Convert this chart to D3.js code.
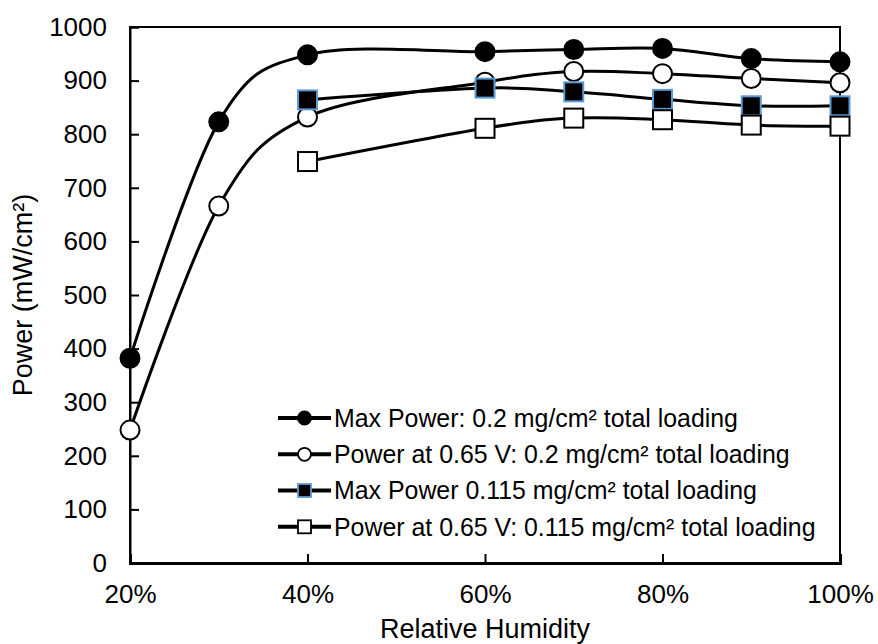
<!DOCTYPE html>
<html>
<head>
<meta charset="utf-8">
<script src="https://cdn.jsdelivr.net/npm/d3@7"></script>
<style>
  html, body { margin: 0; padding: 0; background: #fff; }
  svg { display: block; font-family: "Liberation Sans", Arial, sans-serif; }
</style>
</head>
<body>
<svg id="chart" width="878" height="644"></svg>
<script>
// ---- data ----
const humidity = [0.2, 0.3, 0.4, 0.6, 0.7, 0.8, 0.9, 1.0];
const maxPower02 = [382, 823, 948, 954, 958, 960, 941, 935];
const power065_02 = [248, 666, 832, 897, 917, 913, 904, 896];
const humidity115 = [0.4, 0.6, 0.7, 0.8, 0.9, 1.0];
const maxPower0115 = [864, 886, 879, 865, 853, 853];
const power065_0115 = [749, 811, 830, 827, 817, 815];
const seriesNames = [
  "Max Power: 0.2 mg/cm\u00B2 total loading",
  "Power at 0.65 V: 0.2 mg/cm\u00B2 total loading",
  "Max Power 0.115 mg/cm\u00B2 total loading",
  "Power at 0.65 V: 0.115 mg/cm\u00B2 total loading"
];
const xTicks = [0.2, 0.4, 0.6, 0.8, 1.0];
const yTicks = [0, 100, 200, 300, 400, 500, 600, 700, 800, 900, 1000];
const xTitle = "Relative Humidity";
const yTitle = "Power (mW/cm\u00B2)";

// ---- layout ----
const mLeft = 130, mRight = 840, mTop = 27, mBottom = 563;
const svg = d3.select("#chart");
const x = d3.scaleLinear().domain([0.2, 1.0]).range([mLeft, mRight]);
const y = d3.scaleLinear().domain([0, 1000]).range([mBottom, mTop]);

const series = [
  { name: seriesNames[0], xs: humidity, ys: maxPower02, shape: "circle", fill: "#000", stroke: "#000" },
  { name: seriesNames[1], xs: humidity, ys: power065_02, shape: "circle", fill: "#fff", stroke: "#000" },
  { name: seriesNames[2], xs: humidity115, ys: maxPower0115, shape: "square", fill: "#000", stroke: "#5b9bd5" },
  { name: seriesNames[3], xs: humidity115, ys: power065_0115, shape: "square", fill: "#fff", stroke: "#000" }
];

// frame
svg.append("rect").attr("x", mLeft).attr("y", mTop)
  .attr("width", mRight - mLeft).attr("height", mBottom - mTop)
  .attr("fill", "none").attr("stroke", "#000").attr("stroke-width", 2);

// axes
const yAxis = d3.axisLeft(y).tickValues(yTicks).tickSize(-9).tickPadding(23).tickFormat(d3.format("d"));
const gy = svg.append("g").attr("transform", `translate(${mLeft},0)`).call(yAxis);
gy.select(".domain").attr("stroke-width", 2);
gy.selectAll(".tick line").attr("stroke-width", 2);
gy.selectAll("text").attr("font-size", 26).attr("fill", "#000").attr("font-family", "Liberation Sans, Arial, sans-serif");

const xAxis = d3.axisBottom(x).tickValues(xTicks).tickSize(-9).tickPadding(22).tickFormat(d3.format(".0%"));
const gx = svg.append("g").attr("transform", `translate(0,${mBottom})`).call(xAxis);
gx.select(".domain").attr("stroke-width", 3);
gx.selectAll(".tick line").attr("stroke-width", 2);
gx.selectAll("text").attr("font-size", 26).attr("fill", "#000").attr("font-family", "Liberation Sans, Arial, sans-serif");

// titles
svg.append("text").attr("x", (mLeft + mRight) / 2).attr("y", 638)
  .attr("text-anchor", "middle").attr("font-size", 27).text(xTitle);
svg.append("text").attr("transform", `translate(32,${(mTop + mBottom) / 2}) rotate(-90)`)
  .attr("text-anchor", "middle").attr("font-size", 27).text(yTitle);

// series
const line = d3.line().curve(d3.curveCatmullRom.alpha(0));
function marker(g, shape, cx, cy, size, fill, stroke, sw) {
  if (shape === "circle") {
    g.append("circle").attr("cx", cx).attr("cy", cy).attr("r", size / 2)
      .attr("fill", fill).attr("stroke", stroke).attr("stroke-width", sw);
  } else {
    g.append("rect").attr("x", cx - size / 2).attr("y", cy - size / 2)
      .attr("width", size).attr("height", size)
      .attr("fill", fill).attr("stroke", stroke).attr("stroke-width", sw);
  }
}
series.forEach(s => {
  const g = svg.append("g");
  const pts = s.xs.map((v, i) => [x(v), y(s.ys[i])]);
  g.append("path").attr("d", line(pts)).attr("fill", "none")
    .attr("stroke", "#000").attr("stroke-width", 3);
  pts.forEach(p => marker(g, s.shape, p[0], p[1], 19, s.fill, s.stroke, 2));
});

// legend
const legY = [418, 454.3, 490.5, 526.8];
series.forEach((s, i) => {
  const g = svg.append("g");
  g.append("line").attr("x1", 278).attr("x2", 331).attr("y1", legY[i]).attr("y2", legY[i])
    .attr("stroke", "#000").attr("stroke-width", 4);
  marker(g, s.shape, 304.5, legY[i], 13, s.fill, s.stroke, 1.8);
  g.append("text").attr("x", 334).attr("y", legY[i]).attr("dy", "0.36em")
    .attr("font-size", 24.9).attr("fill", "#000").text(s.name);
});
</script>
</body>
</html>
